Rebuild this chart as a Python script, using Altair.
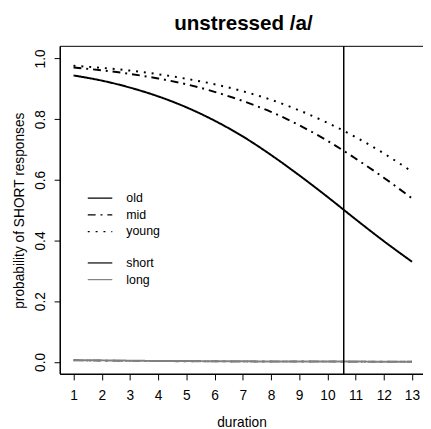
import altair as alt
import pandas as pd

# ---- data ----
durations = list(range(1, 14))
ages = ["old", "mid", "young"]
vowels = ["short", "long"]

old_short = [0.944, 0.927, 0.904, 0.875, 0.839, 0.795, 0.743, 0.682, 0.615, 0.544, 0.470, 0.398, 0.330]
mid_short = [0.970, 0.961, 0.949, 0.934, 0.915, 0.890, 0.860, 0.824, 0.780, 0.729, 0.670, 0.607, 0.539]
young_short = [0.976, 0.969, 0.960, 0.948, 0.933, 0.915, 0.892, 0.864, 0.829, 0.788, 0.741, 0.687, 0.627]

old_long = [0.006, 0.005, 0.004, 0.003, 0.003, 0.002, 0.002, 0.001, 0.001, 0.001, 0.001, 0.0005, 0.0004]
mid_long = [0.005, 0.004, 0.003, 0.003, 0.002, 0.002, 0.001, 0.001, 0.001, 0.001, 0.0005, 0.0004, 0.0003]
young_long = [0.005, 0.004, 0.003, 0.003, 0.002, 0.002, 0.001, 0.001, 0.001, 0.0008, 0.0005, 0.0004, 0.0003]

boundary = [10.58]
x_ticks = durations
y_ticks = [0.0, 0.2, 0.4, 0.6, 0.8, 1.0]

rows = []
for age, s, l in zip(ages, [old_short, mid_short, young_short], [old_long, mid_long, young_long]):
    for d, v in zip(durations, l):
        rows.append({"duration": d, "prob": v, "age": age, "vowel": "long"})
    for d, v in zip(durations, s):
        rows.append({"duration": d, "prob": v, "age": age, "vowel": "short"})
df = pd.DataFrame(rows)
df_b = pd.DataFrame({"duration": boundary})

FONT = "Liberation Sans"
W, H = 370, 334

x_scale = alt.Scale(domain=[0.52, 13.39], nice=False, zero=False)
y_scale = alt.Scale(domain=[-0.04, 1.04], nice=False, zero=False)

x_enc = alt.X("duration:Q", scale=x_scale,
              axis=alt.Axis(values=x_ticks, title="duration", labelPadding=9, titlePadding=14,
                            format="d", labelOverlap=False, labelFlush=False,
                            domain=True, ticks=True))

lines = alt.Chart(df).mark_line(strokeWidth=2, interpolate="monotone", clip=True).encode(
    x=x_enc,
    y=alt.Y("prob:Q", scale=y_scale,
            axis=alt.Axis(values=y_ticks, format=".1f", title="probability of SHORT responses",
                          labelAngle=270, labelAlign="center", labelBaseline="alphabetic",
                          labelPadding=10, titlePadding=7, labelOverlap=False, labelFlush=False,
                          domain=True, ticks=True)),
    color=alt.Color("vowel:N", scale=alt.Scale(domain=vowels, range=["black", "#808080"]),
                    legend=alt.Legend(title=None, orient="none", legendX=27, legendY=214.5,
                                      symbolType="M-1,0H4", symbolSize=100, symbolStrokeWidth=1.2,
                                      labelOffset=28, labelFontSize=12.6, labelFont=FONT,
                                      rowPadding=4, padding=0)),
    strokeDash=alt.StrokeDash("age:N", scale=alt.Scale(domain=ages, range=[[1, 0], [8, 5, 2, 5], [2, 6]]),
                              legend=alt.Legend(title=None, orient="none", legendX=27, legendY=148.5,
                                                symbolType="M-1,0H4", symbolSize=100, symbolStrokeWidth=1.2,
                                                symbolStrokeColor="black",
                                                labelOffset=28, labelFontSize=12.6, labelFont=FONT,
                                                rowPadding=4, padding=0)),
    order=alt.Order("vowel:N"),
)

vline = alt.Chart(df_b).mark_rule(color="black", strokeWidth=1.5).encode(x=x_enc)

# plot frame (R box): top, left and bottom edges
top_border = alt.Chart(df_b).mark_rule(color="black", strokeWidth=1).encode(
    x=alt.value(0), x2=alt.value(W), y=alt.value(0)
)
bottom_border = alt.Chart(df_b).mark_rule(color="black", strokeWidth=1).encode(
    x=alt.value(0), x2=alt.value(W), y=alt.value(H)
)
left_border = alt.Chart(df_b).mark_rule(color="black", strokeWidth=1).encode(
    x=alt.value(0), y=alt.value(0), y2=alt.value(H)
)

chart = alt.layer(lines, vline, top_border, bottom_border, left_border).properties(
    width=W, height=H,
    title=alt.TitleParams("unstressed /a/", fontSize=21, fontWeight="bold", font=FONT,
                          offset=12, anchor="middle", dx=2, color="black"),
    autosize=alt.AutoSizeParams(type="none"),
    padding={"left": 53, "top": 35, "right": 0, "bottom": 52},
).configure_view(stroke=None).configure_axis(
    grid=False, domain=True, domainColor="black", tickColor="black", labelColor="black",
    titleColor="black", labelFont=FONT, titleFont=FONT, labelFontSize=14, titleFontSize=14,
    titleFontWeight="normal", tickSize=6, domainWidth=1, tickWidth=1,
).configure_legend(labelColor="black")

chart.save("out.html", embed_options={"renderer": "svg", "actions": False})
